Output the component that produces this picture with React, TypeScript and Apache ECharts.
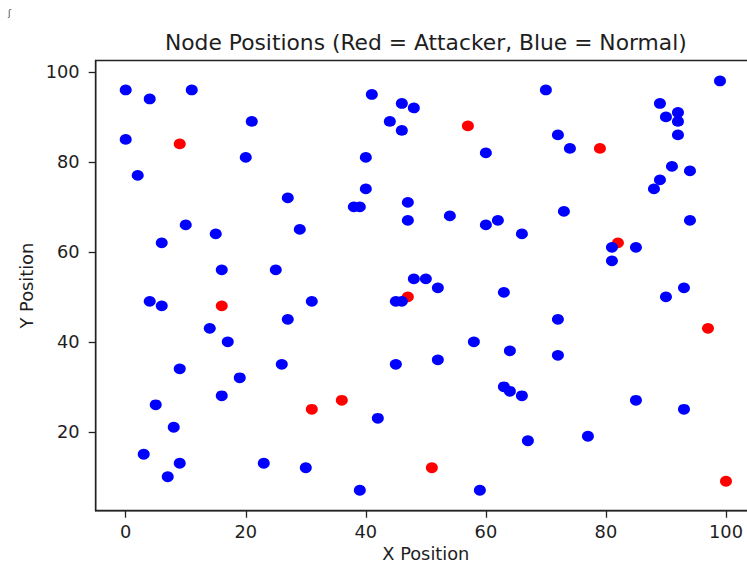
import React, { useEffect, useRef } from "react";
import * as echarts from "echarts";

// Node coordinates in the simulation field
const normalNodes: [number, number][] = [
  [0, 96], [4, 94], [11, 96], [21, 89], [0, 85], [20, 81], [2, 77], [27, 72],
  [29, 65], [10, 66], [15, 64], [6, 62], [16, 56], [25, 56],
  [41, 95], [46, 93], [48, 92], [44, 89], [46, 87], [60, 82], [40, 81], [40, 74],
  [38, 70], [39, 70], [47, 71], [47, 67], [54, 68], [60, 66], [62, 67], [66, 64],
  [48, 54], [50, 54], [52, 52],
  [70, 96], [99, 98], [89, 93], [92, 91], [90, 90], [92, 89], [92, 86], [72, 86],
  [74, 83], [91, 79], [94, 78], [89, 76], [88, 74], [73, 69], [94, 67], [81, 61],
  [85, 61], [81, 58],
  [4, 49], [6, 48], [31, 49], [27, 45], [14, 43], [17, 40], [9, 34], [26, 35],
  [19, 32], [16, 28], [5, 26], [8, 21], [3, 15], [9, 13], [7, 10], [23, 13], [30, 12],
  [45, 49], [46, 49], [63, 51], [58, 40], [64, 38], [45, 35], [52, 36], [63, 30],
  [64, 29], [66, 28], [42, 23], [67, 18], [39, 7], [59, 7],
  [90, 50], [93, 52], [72, 45], [72, 37], [85, 27], [93, 25], [77, 19],
];

const attackerNodes: [number, number][] = [
  [9, 84], [57, 88], [79, 83], [82, 62], [16, 48], [47, 50], [97, 43],
  [31, 25], [36, 27], [51, 12], [100, 9],
];

const xTicks = [0, 20, 40, 60, 80, 100];
const yTicks = [20, 40, 60, 80, 100];

const TITLE = "Node Positions (Red = Attacker, Blue = Normal)";
const X_LABEL = "X Position";
const Y_LABEL = "Y Position";

const FONT = "DejaVu Sans";
const TEXT_COLOR = "#1e1e1e";
const SPINE = "#222";

export default function App() {
  const ref = useRef<HTMLDivElement>(null);

  useEffect(() => {
    if (!ref.current) return;
    const chart = echarts.init(ref.current, undefined, { renderer: "svg" });

    const gridLeft = 95.7;
    const gridTop = 60.5;
    const gridW = 660.3;
    const gridH = 450.2;
    const midX = gridLeft + gridW / 2;

    const axisCommon = {
      type: "value",
      splitLine: { show: false },
      axisLine: { show: true, onZero: false, lineStyle: { color: SPINE, width: 1.4 } },
    };

    chart.setOption({
      animation: false,
      backgroundColor: "#ffffff",
      grid: {
        left: gridLeft,
        top: gridTop,
        width: gridW,
        height: gridH,
        show: true,
        borderColor: SPINE,
        borderWidth: 1.4,
        backgroundColor: "transparent",
        containLabel: false,
        outerBoundsMode: "none",
      },
      xAxis: {
        ...axisCommon,
        min: -5,
        max: 105,
        axisTick: {
          show: true,
          inside: false,
          length: 7,
          customValues: xTicks,
          lineStyle: { color: SPINE, width: 1.3 },
        },
        axisLabel: {
          customValues: xTicks,
          margin: 20.5,
          verticalAlign: "middle",
          fontFamily: FONT,
          fontSize: 17.8,
          color: TEXT_COLOR,
        },
      },
      yAxis: {
        ...axisCommon,
        min: 2.45,
        max: 102.55,
        axisTick: {
          show: true,
          inside: false,
          length: 7,
          customValues: yTicks,
          lineStyle: { color: SPINE, width: 1.3 },
        },
        axisLabel: {
          customValues: yTicks,
          margin: 16,
          fontFamily: FONT,
          fontSize: 17.8,
          color: TEXT_COLOR,
        },
      },
      graphic: [
        {
          type: "text",
          x: midX,
          y: 42.2,
          style: {
            text: TITLE,
            fontFamily: FONT,
            fontSize: 21.8,
            fill: TEXT_COLOR,
            align: "center",
            verticalAlign: "middle",
          },
        },
        {
          type: "text",
          x: midX,
          y: 553,
          style: {
            text: X_LABEL,
            fontFamily: FONT,
            fontSize: 17.8,
            fill: TEXT_COLOR,
            align: "center",
            verticalAlign: "middle",
          },
        },
        {
          type: "text",
          x: 26.7,
          y: gridTop + gridH / 2,
          rotation: Math.PI / 2,
          style: {
            text: Y_LABEL,
            fontFamily: FONT,
            fontSize: 17.8,
            fill: TEXT_COLOR,
            align: "center",
            verticalAlign: "middle",
          },
        },
        {
          type: "text",
          x: 8,
          y: 8,
          style: {
            text: "ʃ",
            fontFamily: FONT,
            fontSize: 9,
            fill: "#444",
          },
        },
      ],
      series: [
        {
          name: "Attacker",
          type: "scatter",
          data: attackerNodes,
          symbol: "circle",
          symbolSize: [12, 10.8],
          itemStyle: { color: "#ff0000", opacity: 1 },
          z: 2,
        },
        {
          name: "Normal",
          type: "scatter",
          data: normalNodes,
          symbol: "circle",
          symbolSize: [12, 10.8],
          itemStyle: { color: "#0000ff", opacity: 1 },
          z: 3,
        },
      ],
    });

    return () => chart.dispose();
  }, []);

  return (
    <div
      style={{
        position: "absolute",
        left: 0,
        top: 0,
        width: 747,
        height: 562,
        overflow: "hidden",
        background: "#fff",
      }}
    >
      <div ref={ref} style={{ width: 780, height: 562 }} />
    </div>
  );
}
